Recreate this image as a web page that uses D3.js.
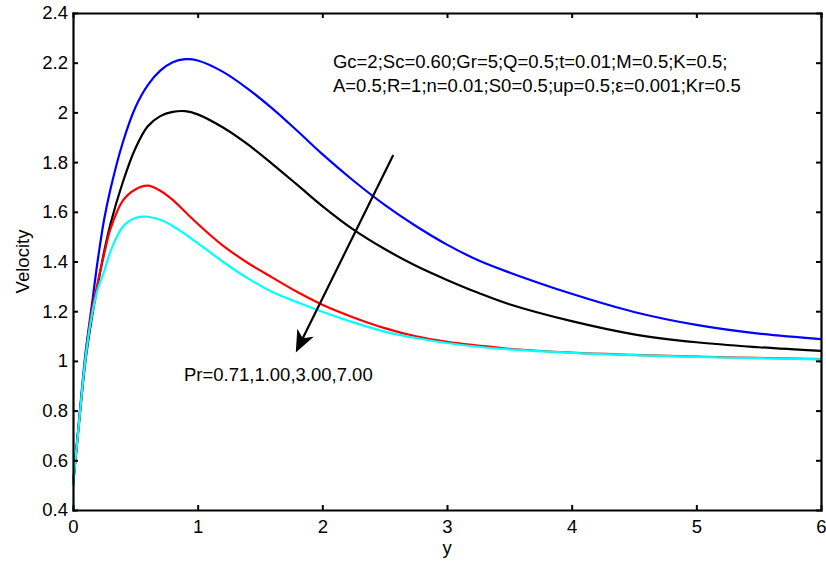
<!DOCTYPE html>
<html>
<head>
<meta charset="utf-8">
<script src="https://cdn.jsdelivr.net/npm/d3@7"></script>
<style>
  html, body { margin: 0; padding: 0; background: #fff; }
  svg { display: block; }
  text { font-family: "Liberation Sans", Arial, Helvetica, sans-serif; fill: #000; }
</style>
</head>
<body>
<svg id="chart" width="826" height="564"></svg>
<script>
// Distance coordinate y
const yPos = [0, 0.05, 0.1, 0.15, 0.2, 0.25, 0.3, 0.4, 0.5, 0.6, 0.7, 0.8, 0.9, 1.0,
              1.2, 1.4, 1.6, 1.8, 2.0, 2.25, 2.5, 2.75, 3.0, 3.25, 3.5, 4.0, 4.5, 5.0, 5.5, 6.0];

// Velocity profiles for each Prandtl number
const velPr071 = [0.50, 0.77, 1.03, 1.22, 1.41, 1.57, 1.69, 1.88, 2.02, 2.11, 2.168, 2.202, 2.214, 2.209,
                  2.164, 2.096, 2.015, 1.925, 1.832, 1.725, 1.628, 1.543, 1.468, 1.405, 1.356, 1.27, 1.197, 1.145, 1.11, 1.088];
const velPr100 = [0.50, 0.76, 1.00, 1.17, 1.31, 1.44, 1.55, 1.72, 1.855, 1.944, 1.985, 2.002, 2.005, 1.992,
                  1.94, 1.872, 1.792, 1.708, 1.623, 1.528, 1.45, 1.383, 1.326, 1.274, 1.228, 1.16, 1.107, 1.075, 1.055, 1.04];
const velPr300 = [0.50, 0.76, 1.01, 1.20, 1.32, 1.43, 1.53, 1.645, 1.69, 1.705, 1.685, 1.648, 1.600, 1.552,
                  1.465, 1.395, 1.335, 1.277, 1.226, 1.175, 1.132, 1.099, 1.077, 1.062, 1.049, 1.033, 1.024, 1.017, 1.012, 1.007];
const velPr700 = [0.50, 0.76, 1.01, 1.18, 1.29, 1.36, 1.44, 1.54, 1.575, 1.58, 1.568, 1.543, 1.510, 1.474,
                  1.40, 1.333, 1.277, 1.236, 1.198, 1.155, 1.118, 1.092, 1.072, 1.057, 1.046, 1.032, 1.023, 1.016, 1.011, 1.006];

const seriesColors = ["#0000ff", "#000000", "#ff0000", "#00ffff"];

// Axis ticks
const xTicks = [0, 1, 2, 3, 4, 5, 6];
const yTicks = [0.4, 0.6, 0.8, 1.0, 1.2, 1.4, 1.6, 1.8, 2.0, 2.2, 2.4];

// Annotations
const paramLines = ["Gc=2;Sc=0.60;Gr=5;Q=0.5;t=0.01;M=0.5;K=0.5;",
                    "A=0.5;R=1;n=0.01;S0=0.5;up=0.5;\u03b5=0.001;Kr=0.5"];
const paramAnchor = [2.085, 2.178];
const paramAnchor2 = [2.085, 2.082];
const prLabel = "Pr=0.71,1.00,3.00,7.00";
const prAnchor = [0.89, 0.919];
const arrowFrom = [2.569, 1.829];
const arrowTo = [1.794, 1.041];

const svg = d3.select("#chart");
const mLeft = 73, mRight = 821, mTop = 13, mBottom = 510;
const fontSize = 18.5;

const x = d3.scaleLinear().domain([0, 6]).range([mLeft, mRight]);
const y = d3.scaleLinear().domain([0.4, 2.4]).range([mBottom, mTop]);

// Curves
const series = [velPr071, velPr100, velPr300, velPr700];
const line = d3.line()
  .x((d, i) => x(yPos[i]))
  .y(d => y(d))
  .curve(d3.curveCatmullRom.alpha(0.5));

const plot = svg.append("g");
series.forEach((vals, k) => {
  plot.append("path")
    .datum(vals)
    .attr("d", line)
    .attr("fill", "none")
    .attr("stroke", seriesColors[k])
    .attr("stroke-width", 2.2)
    .attr("stroke-linejoin", "round");
});

// Box axes with inward ticks
function styleAxis(g) {
  g.selectAll(".domain").attr("stroke", "#000").attr("stroke-width", 2.2);
  g.selectAll(".tick line").attr("stroke", "#000").attr("stroke-width", 2);
  g.selectAll("text").attr("font-size", fontSize)
    .attr("font-family", '"Liberation Sans", Arial, sans-serif').attr("fill", "#000");
}
const fmtY = d => (d === 1 || d === 2) ? String(d) : d3.format(".1f")(d);

svg.append("g").attr("transform", `translate(0,${mBottom})`)
  .call(d3.axisBottom(x).tickValues(xTicks).tickFormat(d3.format("d"))
    .tickSizeInner(-5).tickSizeOuter(0).tickPadding(10))
  .call(styleAxis);
svg.append("g").attr("transform", `translate(0,${mTop})`)
  .call(d3.axisTop(x).tickValues(xTicks).tickFormat("")
    .tickSizeInner(-5).tickSizeOuter(0))
  .call(styleAxis);
svg.append("g").attr("transform", `translate(${mLeft},0)`)
  .call(d3.axisLeft(y).tickValues(yTicks).tickFormat(fmtY)
    .tickSizeInner(-5).tickSizeOuter(0).tickPadding(5))
  .call(styleAxis);
svg.append("g").attr("transform", `translate(${mRight},0)`)
  .call(d3.axisRight(y).tickValues(yTicks).tickFormat("")
    .tickSizeInner(-5).tickSizeOuter(0))
  .call(styleAxis);
svg.selectAll(".domain").attr("stroke-linecap", "square");

// Axis titles
svg.append("text")
  .attr("x", (mLeft + mRight) / 2).attr("y", 554)
  .attr("text-anchor", "middle").attr("font-size", fontSize)
  .text("y");
svg.append("text")
  .attr("transform", `translate(28.5,${(mTop + mBottom) / 2}) rotate(-90)`)
  .attr("text-anchor", "middle").attr("font-size", fontSize)
  .text("Velocity");

// Parameter annotation
svg.append("text").attr("x", x(paramAnchor[0])).attr("y", y(paramAnchor[1]))
  .attr("font-size", fontSize).text(paramLines[0]);
svg.append("text").attr("x", x(paramAnchor2[0])).attr("y", y(paramAnchor2[1]))
  .attr("font-size", fontSize).text(paramLines[1]);

// Pr annotation and arrow
svg.append("text").attr("x", x(prAnchor[0])).attr("y", y(prAnchor[1]))
  .attr("font-size", fontSize).text(prLabel);

const x0 = x(arrowFrom[0]), y0 = y(arrowFrom[1]);
const x1 = x(arrowTo[0]), y1 = y(arrowTo[1]);
const len = Math.hypot(x1 - x0, y1 - y0);
const ux = (x1 - x0) / len, uy = (y1 - y0) / len;
const headL = 18, headW = 7.5, notch = 13;
svg.append("line")
  .attr("x1", x0).attr("y1", y0)
  .attr("x2", x1 - ux * notch).attr("y2", y1 - uy * notch)
  .attr("stroke", "#000").attr("stroke-width", 2.2);
const bx = x1 - ux * headL, by = y1 - uy * headL;
const head = [
  [x1, y1],
  [bx - uy * headW, by + ux * headW],
  [x1 - ux * notch, y1 - uy * notch],
  [bx + uy * headW, by - ux * headW]
];
svg.append("path")
  .attr("d", d3.line()(head) + "Z")
  .attr("fill", "#000").attr("stroke", "#000").attr("stroke-width", 1.5)
  .attr("stroke-linejoin", "miter");
</script>
</body>
</html>
